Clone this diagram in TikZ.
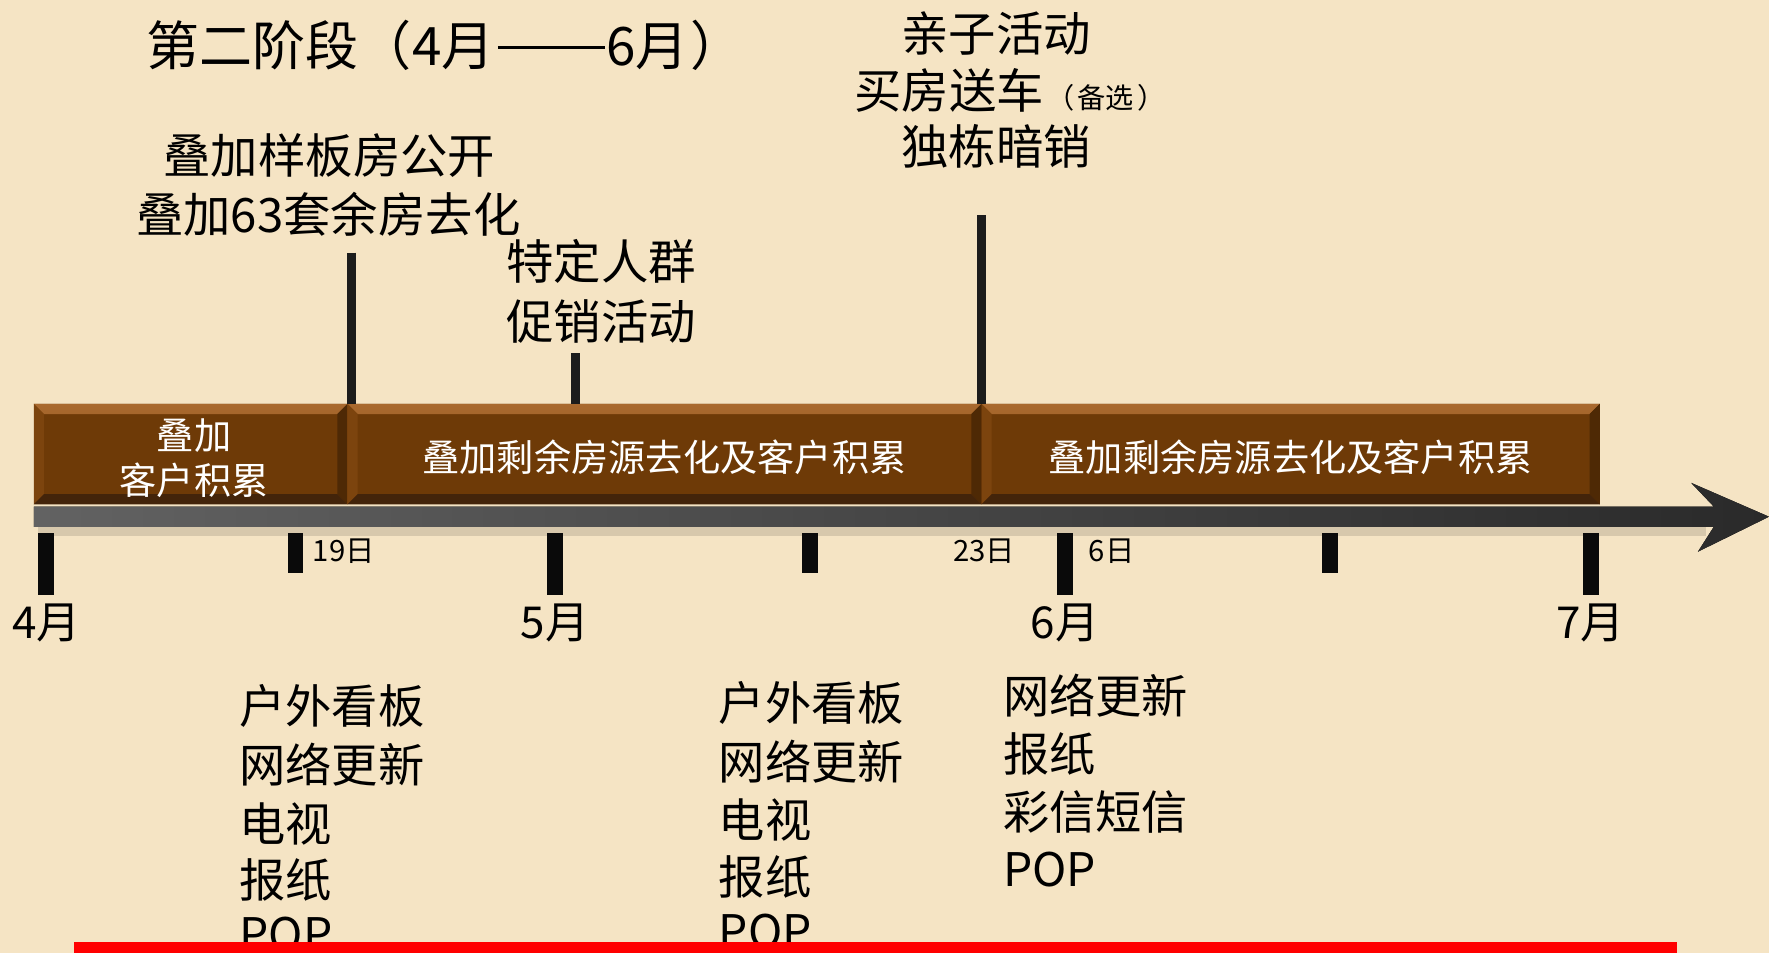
\documentclass[tikz,border=0pt]{standalone}
\usepackage{fontspec}
\setmainfont{Noto Sans CJK SC}
\definecolor{bg}{HTML}{F5E4C4}
\definecolor{segbrown}{HTML}{6E3A07}
\definecolor{bevtopA}{HTML}{A9692E}
\definecolor{bevtopB}{HTML}{8A4C17}
\definecolor{bevleft}{HTML}{7C440E}
\definecolor{bevright}{HTML}{4E2905}
\definecolor{bevbot}{HTML}{43240A}
\definecolor{shaftL}{HTML}{626262}
\definecolor{shaftR}{HTML}{2A2A2A}
\definecolor{vline}{HTML}{1C1C1C}
\definecolor{tickc}{HTML}{0A0A0A}
\begin{document}
\begin{tikzpicture}[x=1pt,y=-1pt,
  seg/.style={rectangle, inner sep=0pt, minimum height=89pt, fill=segbrown,
    path picture={
      \fill[top color=bevtopA,bottom color=bevtopB]
        (path picture bounding box.north west) -- (path picture bounding box.north east)
        -- ([xshift=-9pt,yshift=-9pt]path picture bounding box.north east)
        -- ([xshift=9pt,yshift=-9pt]path picture bounding box.north west) -- cycle;
      \fill[bevleft]
        (path picture bounding box.north west) -- ([xshift=9pt,yshift=-9pt]path picture bounding box.north west)
        -- ([xshift=9pt,yshift=9pt]path picture bounding box.south west) -- (path picture bounding box.south west) -- cycle;
      \fill[bevright]
        (path picture bounding box.north east) -- ([xshift=-9pt,yshift=-9pt]path picture bounding box.north east)
        -- ([xshift=-9pt,yshift=9pt]path picture bounding box.south east) -- (path picture bounding box.south east) -- cycle;
      \fill[bevbot]
        (path picture bounding box.south west) -- (path picture bounding box.south east)
        -- ([xshift=-9pt,yshift=9pt]path picture bounding box.south east)
        -- ([xshift=9pt,yshift=9pt]path picture bounding box.south west) -- cycle;
    }},
  segtext/.style={inner sep=0pt, text=white, align=center, font=\fontsize{33}{40}\selectfont},
  majortick/.style={rectangle, inner sep=0pt, fill=tickc, minimum width=14pt, minimum height=55pt},
  minortick/.style={rectangle, inner sep=0pt, fill=tickc, minimum width=14pt, minimum height=36pt},
  vconn/.style={draw=vline, line width=8pt},
  bigtext/.style={inner sep=0pt, font=\fontsize{42}{52}\selectfont},
  monthlab/.style={inner sep=0pt, font=\fontsize{39}{39}\selectfont},
  daylab/.style={inner sep=0pt, font=\fontsize{26}{26}\selectfont},
  media/.style={inner sep=0pt, anchor=west, font=\fontsize{41}{52}\selectfont}
]
\useasboundingbox (0,0) rectangle (1568,845);
\fill[bg] (0,0) rectangle (1568,845);

% title
\node[inner sep=0pt, anchor=west, font=\fontsize{47}{47}\selectfont] (title) at (130,40)
  {第二阶段（4月\hspace{3pt}\rule[0.3em]{95pt}{3pt}\hspace{1pt}6月\hspace{2pt}）};

% axis arrow
\fill[black, opacity=0.12] (34,467) rectangle (1512,475);
\fill[left color=shaftL, right color=shaftR]
  (30,449) -- (1519,449) -- (1499,428) -- (1568,458) -- (1505,489) -- (1519,467) -- (30,467) -- cycle;

% segments
\node[seg, minimum width=278pt] (seg1) at (169,402.5) {};
\node[seg, minimum width=562pt] (seg2) at (589,402.5) {};
\node[seg, minimum width=548pt] (seg3) at (1144,402.5) {};
\node[segtext] (s1) at ([xshift=3pt,yshift=-4pt]seg1.center) {叠加\\客户积累};
\node[segtext] (s2) at ([yshift=-3pt]seg2.center) {叠加剩余房源去化及客户积累};
\node[segtext] (s3) at ([yshift=-3pt]seg3.center) {叠加剩余房源去化及客户积累};

% vertical connectors above
\coordinate (v1) at (311.5,224);
\coordinate (v2) at (510,313);
\coordinate (v3) at (870,191);
\draw[vconn] (v1) -- (v1 |- seg1.north);
\draw[vconn] (v2) -- (v2 |- seg2.north);
\draw[vconn] (v3) -- (v3 |- seg2.north);

% ticks
\node[majortick] (t4) at (41,499.5) {};
\node[minortick] (t19) at (262,490) {};
\node[majortick] (t5) at (492,499.5) {};
\node[minortick] (tm5) at (718,490) {};
\node[majortick] (t6) at (944,499.5) {};
\node[minortick] (tm6) at (1179,490) {};
\node[majortick] (t7) at (1410,499.5) {};

% tick labels
\node[monthlab] (l4) at (41,552) {4月};
\node[monthlab] (l5) at (492,552) {5月};
\node[monthlab] (l6) at (944,552) {6月};
\node[monthlab] (l7) at (1410,552) {7月};
\node[daylab, anchor=west] (d19) at (277,489) {19日};
\node[daylab, anchor=east] (d23) at (900,489) {23日};
\node[daylab, anchor=west] (d6) at (965,489) {6日};

% event texts above
\node[bigtext] (e1a) at (292,138) {叠加样板房公开};
\node[bigtext] (e1b) at (291,190) {叠加63套余房去化};
\node[bigtext] (e2a) at (533,232) {特定人群};
\node[bigtext] (e2b) at (533,285) {促销活动};
\node[bigtext] (e3a) at (883,30) {亲子活动};
\node[bigtext, anchor=west] (e3b) at (757,80)
  {买房送车{\fontsize{25}{25}\selectfont\hspace{2pt}（\hspace{3pt}备选\hspace{3pt}）}};
\node[bigtext] (e3c) at (883,130) {独栋暗销};

% media lists
\node[media] (a1) at (212,626) {户外看板};
\node[media] (a2) at (212,678) {网络更新};
\node[media] (a3) at (212,730) {电视};
\node[media] (a4) at (212,780) {报纸};
\node[media] (a5) at (212,828) {POP};
\node[media] (b1) at (637,623) {户外看板};
\node[media] (b2) at (637,675) {网络更新};
\node[media] (b3) at (637,727) {电视};
\node[media] (b4) at (637,777) {报纸};
\node[media] (b5) at (637,826) {POP};
\node[media] (c1) at (889,617) {网络更新};
\node[media] (c2) at (889,668) {报纸};
\node[media] (c3) at (889,720) {彩信短信};
\node[media] (c4) at (889,771) {POP};

% red bar
\fill[red] (66,835) rectangle (1486,845);
\end{tikzpicture}
\end{document}
